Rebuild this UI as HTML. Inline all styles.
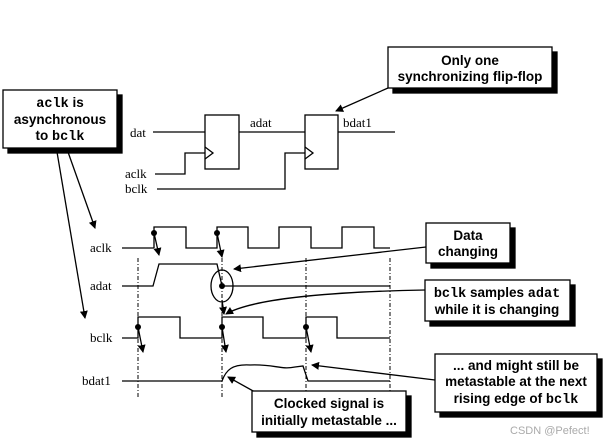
<!DOCTYPE html>
<html><head><meta charset="utf-8"><style>
body{margin:0;background:#fff;}
svg{display:block;}
.s{font-family:"Liberation Serif",serif;font-size:13px;fill:#000;}
.b{font-family:"Liberation Sans",sans-serif;font-weight:bold;font-size:13.5px;fill:#000;}
.m{font-family:"Liberation Mono",monospace;font-weight:bold;}
</style></head><body>
<svg width="611" height="445" viewBox="0 0 611 445" xmlns="http://www.w3.org/2000/svg">
<defs><marker id="a" markerWidth="8" markerHeight="8" refX="7" refY="4" orient="auto" markerUnits="userSpaceOnUse"><path d="M0,0 L8,4 L0,8 z" fill="#000"/></marker></defs>
<g fill="none" stroke="#000" stroke-width="1.3">
<line x1="153" y1="132" x2="205" y2="132"/>
<rect x="205" y="115" width="34" height="54"/>
<path d="M205,147 L213,153 L205,159"/>
<line x1="239" y1="132" x2="305" y2="132"/>
<rect x="305" y="115" width="33" height="54"/>
<path d="M305,147 L313,153 L305,159"/>
<line x1="338" y1="132" x2="395" y2="132"/>
<path d="M155,174 H185 V153 H205"/>
<path d="M157,189 H285 V153 H305"/>
<line x1="388" y1="88" x2="336" y2="111" marker-end="url(#a)"/>
<line x1="57" y1="152" x2="85" y2="318" marker-end="url(#a)"/>
<line x1="68" y1="152" x2="95" y2="228" marker-end="url(#a)"/>
<path d="M122,248 H154 V227 H186 V248 H217 V227 H248 V248 H279 V227 H311 V248 H342 V227 H374 V248 H390"/>
<path d="M122,286 H153 L159,264 H217 L222,286 H390"/>
<path d="M122,338 H138 V317 H180 V338 H222 V317 H263 V338 H306 V317 H337 V338 H390"/>
<path d="M122,381 H222 C226,370 232,364 250,365 C275,364 280,370 295,367 L303,366 L308,381 H390"/>
<g stroke-dasharray="4,2,1,2" stroke-width="1">
<line x1="138" y1="258" x2="138" y2="397"/>
<line x1="222" y1="258" x2="222" y2="397"/>
<line x1="306" y1="258" x2="306" y2="397"/>
<line x1="390" y1="258" x2="390" y2="397"/>
</g>
<ellipse cx="222" cy="286" rx="11" ry="16"/>
<line x1="154" y1="233" x2="159" y2="255" marker-end="url(#a)"/>
<line x1="217" y1="233" x2="222" y2="257" marker-end="url(#a)"/>
<line x1="138" y1="327" x2="143" y2="352" marker-end="url(#a)"/>
<line x1="222" y1="327" x2="226" y2="352" marker-end="url(#a)"/>
<line x1="306" y1="327" x2="311" y2="352" marker-end="url(#a)"/>
<line x1="222" y1="300" x2="224" y2="314" marker-end="url(#a)"/>
<line x1="426" y1="247" x2="234" y2="269" marker-end="url(#a)"/>
<path d="M425,290 C320,292 250,300 226,314" marker-end="url(#a)"/>
<line x1="435" y1="380" x2="312" y2="365" marker-end="url(#a)"/>
<line x1="255" y1="392" x2="228" y2="377" marker-end="url(#a)"/>
</g>
<g fill="#000">
<circle cx="154" cy="233" r="3"/><circle cx="217" cy="233" r="3"/>
<circle cx="222" cy="286" r="3"/>
<circle cx="138" cy="327" r="3"/><circle cx="222" cy="327" r="3"/><circle cx="306" cy="327" r="3"/>
</g>
<text class="s" x="130" y="137">dat</text>
<text class="s" x="250" y="127">adat</text>
<text class="s" x="343" y="127">bdat1</text>
<text class="s" x="125" y="178">aclk</text>
<text class="s" x="125" y="193">bclk</text>
<text class="s" x="90" y="252">aclk</text>
<text class="s" x="90" y="290">adat</text>
<text class="s" x="90" y="342">bclk</text>
<text class="s" x="82" y="385">bdat1</text>
<g stroke="#000" stroke-width="1.3">
<rect x="393" y="52" width="164" height="41" fill="#000"/><rect x="388" y="47" width="164" height="41" fill="#fff"/>
<rect x="8" y="95" width="114" height="58" fill="#000"/><rect x="3" y="90" width="114" height="58" fill="#fff"/>
<rect x="431" y="228" width="84" height="40" fill="#000"/><rect x="426" y="223" width="84" height="40" fill="#fff"/>
<rect x="430" y="285" width="145" height="41" fill="#000"/><rect x="425" y="280" width="145" height="41" fill="#fff"/>
<rect x="440" y="359" width="162" height="58" fill="#000"/><rect x="435" y="354" width="162" height="58" fill="#fff"/>
<rect x="257" y="396" width="154" height="41" fill="#000"/><rect x="252" y="391" width="154" height="41" fill="#fff"/>
</g>
<text class="b" text-anchor="middle" x="470" y="65">Only one</text>
<text class="b" text-anchor="middle" x="470" y="81">synchronizing flip-flop</text>
<text class="b" text-anchor="middle" x="60" y="107"><tspan class="m">aclk</tspan> is</text>
<text class="b" text-anchor="middle" x="60" y="124">asynchronous</text>
<text class="b" text-anchor="middle" x="60" y="140">to <tspan class="m">bclk</tspan></text>
<text class="b" text-anchor="middle" x="468" y="240">Data</text>
<text class="b" text-anchor="middle" x="468" y="256">changing</text>
<text class="b" text-anchor="middle" x="497" y="297"><tspan class="m">bclk</tspan> samples <tspan class="m">adat</tspan></text>
<text class="b" text-anchor="middle" x="497" y="314">while it is changing</text>
<text class="b" text-anchor="middle" x="516" y="370">... and might still be</text>
<text class="b" text-anchor="middle" x="516" y="386">metastable at the next</text>
<text class="b" text-anchor="middle" x="516" y="403">rising edge of <tspan class="m">bclk</tspan></text>
<text class="b" text-anchor="middle" x="329" y="408">Clocked signal is</text>
<text class="b" text-anchor="middle" x="329" y="425">initially metastable ...</text>
<text x="510" y="434" font-family="Liberation Sans,sans-serif" font-size="11" fill="#aaa">CSDN @Pefect!</text>
</svg>
</body></html>
